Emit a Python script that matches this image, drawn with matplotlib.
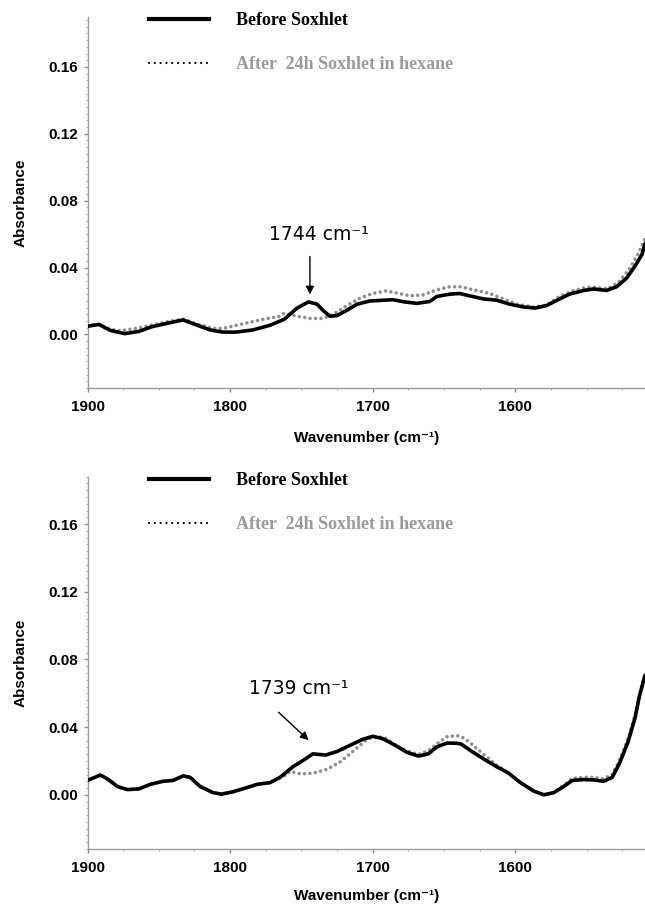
import numpy as np
import matplotlib
matplotlib.use("Agg")
import matplotlib.pyplot as plt
from matplotlib.lines import Line2D

# --- top panel (1744 cm-1) ---
top_wn_before = [1900, 1892, 1884, 1874, 1864, 1855, 1844, 1833, 1823, 1814, 1805, 1796,
                 1784, 1772, 1762, 1753, 1745, 1739, 1735, 1730, 1725, 1718, 1711, 1702,
                 1692, 1686, 1678, 1669, 1660, 1655, 1646, 1639, 1632, 1622, 1613, 1604,
                 1594, 1586, 1578, 1569, 1562, 1552, 1545, 1536, 1529, 1522, 1516, 1511, 1509]
top_before = [0.0049, 0.0060, 0.0024, 0.0005, 0.0018, 0.0046, 0.0067, 0.0087, 0.0055, 0.0027, 0.0014, 0.0014,
              0.0027, 0.0055, 0.0091, 0.0158, 0.0195, 0.0181, 0.0145, 0.0109, 0.0113, 0.0145, 0.0181, 0.0200,
              0.0205, 0.0208, 0.0195, 0.0186, 0.0197, 0.0227, 0.0241, 0.0245, 0.0231, 0.0212, 0.0205, 0.0181,
              0.0164, 0.0158, 0.0173, 0.0212, 0.0241, 0.0263, 0.0272, 0.0263, 0.0285, 0.0336, 0.0409, 0.0480, 0.0544]

top_wn_after = [1900, 1892, 1884, 1877, 1864, 1844, 1833, 1823, 1812, 1805, 1793, 1779,
                1765, 1762, 1753, 1744, 1735, 1728, 1718, 1709, 1700, 1691, 1683, 1674,
                1665, 1655, 1646, 1638, 1632, 1627, 1618, 1608, 1599, 1587, 1578, 1569,
                1560, 1550, 1543, 1535, 1527, 1520, 1514, 1509]
top_after = [0.0055, 0.0060, 0.0031, 0.0022, 0.0039, 0.0076, 0.0092, 0.0062, 0.0036, 0.0036, 0.0060, 0.0087,
             0.0109, 0.0127, 0.0109, 0.0096, 0.0096, 0.0118, 0.0173, 0.0217, 0.0245, 0.0260, 0.0248, 0.0231,
             0.0236, 0.0267, 0.0285, 0.0285, 0.0272, 0.0263, 0.0245, 0.0212, 0.0181, 0.0164, 0.0176, 0.0227,
             0.0260, 0.0282, 0.0282, 0.0272, 0.0318, 0.0390, 0.0480, 0.0571]

# --- bottom panel (1739 cm-1) ---
bot_wn_before = [1900, 1891, 1886, 1879, 1872, 1864, 1856, 1847, 1840, 1833, 1828, 1821,
                 1812, 1806, 1798, 1788, 1781, 1772, 1765, 1756, 1749, 1742, 1733, 1725,
                 1716, 1707, 1700, 1693, 1684, 1676, 1668, 1661, 1655, 1648, 1641, 1638,
                 1632, 1622, 1613, 1605, 1597, 1587, 1580, 1573, 1566, 1560, 1552, 1545,
                 1538, 1532, 1527, 1521, 1516, 1513, 1509]
bot_before = [0.0085, 0.0117, 0.0094, 0.0049, 0.0031, 0.0035, 0.0062, 0.0080, 0.0085, 0.0112, 0.0103, 0.0049,
              0.0013, 0.0004, 0.0018, 0.0043, 0.0062, 0.0072, 0.0103, 0.0166, 0.0202, 0.0242, 0.0235, 0.0256,
              0.0292, 0.0328, 0.0346, 0.0332, 0.0292, 0.0251, 0.0229, 0.0242, 0.0283, 0.0306, 0.0305, 0.0300,
              0.0265, 0.0211, 0.0166, 0.0130, 0.0076, 0.0022, 0.0000, 0.0013, 0.0049, 0.0085, 0.0090, 0.0088,
              0.0080, 0.0103, 0.0184, 0.0310, 0.0454, 0.0580, 0.0706]

bot_wn_after = [1900, 1891, 1886, 1879, 1872, 1864, 1856, 1847, 1840, 1833, 1828, 1821,
                1812, 1806, 1798, 1788, 1781, 1772, 1762, 1758, 1751, 1742, 1732, 1723,
                1714, 1704, 1697, 1690, 1684, 1676, 1668, 1661, 1655, 1648, 1641, 1638,
                1632, 1622, 1613, 1605, 1597, 1587, 1580, 1573, 1566, 1560, 1552, 1545,
                1538, 1532, 1527, 1521, 1516, 1513, 1509]
bot_after = [0.0085, 0.0117, 0.0094, 0.0049, 0.0031, 0.0035, 0.0062, 0.0080, 0.0085, 0.0112, 0.0103, 0.0049,
             0.0013, 0.0004, 0.0018, 0.0043, 0.0062, 0.0072, 0.0112, 0.0139, 0.0124, 0.0127, 0.0151, 0.0193,
             0.0256, 0.0328, 0.0346, 0.0332, 0.0292, 0.0260, 0.0238, 0.0260, 0.0301, 0.0343, 0.0350, 0.0345,
             0.0310, 0.0238, 0.0175, 0.0130, 0.0076, 0.0022, 0.0000, 0.0013, 0.0058, 0.0097, 0.0103, 0.0103,
             0.0094, 0.0120, 0.0202, 0.0328, 0.0472, 0.0589, 0.0715]

labels = ['Before Soxhlet', 'After  24h Soxhlet in hexane']
yticks = [0.00, 0.04, 0.08, 0.12, 0.16]
xticks = [1900, 1800, 1700, 1600]

sans = ['Liberation Sans', 'DejaVu Sans']
serif = ['Liberation Serif', 'DejaVu Serif']
gray = '#8f8f8f'


def draw_panel(ax, wn_b, a_b, wn_a, a_a, ylim, note, note_xy, arrow_from, arrow_to, xlabelpad):
    ax.plot(wn_a, a_a, color=gray, lw=2.6, linestyle=(0, (0.01, 1.5)),
            dash_capstyle='round', zorder=2)
    ax.plot(wn_b, a_b, color='black', lw=2.6, solid_capstyle='round', zorder=3)

    ax.set_xlim(1900, 1509)
    ax.set_ylim(*ylim)
    ax.set_xticks(xticks)
    ax.set_xticks(np.arange(1525, 1901, 25), minor=True)
    ax.set_yticks(yticks)
    ax.set_yticks(np.arange(-0.032, 0.19, 0.004), minor=True)
    ax.set_yticklabels(['%.2f' % t for t in yticks])

    for side in ['top', 'right']:
        ax.spines[side].set_visible(False)
    for side in ['left', 'bottom']:
        ax.spines[side].set_color('#9a9a9a')
        ax.spines[side].set_linewidth(1.0)
    ax.tick_params(which='major', direction='out', length=3, color='#8a8a8a', width=1)
    ax.tick_params(which='minor', direction='out', length=1.5, color='#b0b0b0', width=0.8)
    ax.tick_params(axis='x', pad=6)
    ax.tick_params(axis='y', pad=4)
    for lab in ax.get_xticklabels() + ax.get_yticklabels():
        lab.set_family(sans)
        lab.set_fontweight('bold')
        lab.set_fontsize(11)

    ax.set_xlabel('Wavenumber (cm\u207b\u00b9)', family=sans, fontweight='bold',
                  fontsize=11, labelpad=xlabelpad)
    ax.set_ylabel('Absorbance', family=sans, fontweight='bold', fontsize=11, labelpad=15)

    ax.text(note_xy[0], note_xy[1], note, fontsize=13.5, family='DejaVu Sans',
            ha='center', va='center')
    ax.annotate('', xy=arrow_to, xytext=arrow_from,
                arrowprops=dict(arrowstyle='-|>', color='black', lw=1.0,
                                mutation_scale=12, shrinkA=0, shrinkB=0))

    handles = [Line2D([], [], color='black', lw=3.0),
               Line2D([], [], color='black', lw=1.6, linestyle=(0, (0.01, 2.6)),
                      dash_capstyle='round')]
    leg = ax.legend(handles, labels, loc='upper left', bbox_to_anchor=(0.098, 1.032),
                    frameon=False, handlelength=3.3, handletextpad=1.5,
                    labelspacing=1.5, borderaxespad=0,
                    prop={'family': serif, 'weight': 'bold', 'size': 13})
    leg.get_texts()[1].set_color('#9a9a9a')


fig = plt.figure(figsize=(6.45, 9.05), dpi=100)
ax1 = fig.add_axes([0.1357, 0.5713, 0.8643, 0.4102])
ax2 = fig.add_axes([0.1357, 0.0619, 0.8643, 0.4114])

draw_panel(ax1, top_wn_before, top_before, top_wn_after, top_after,
           (-0.0123, 0.190), '1744 cm\u207b\u00b9', (1738, 0.060),
           (1744, 0.0466), (1744, 0.0239), 12)
draw_panel(ax2, bot_wn_before, bot_before, bot_wn_after, bot_after,
           (-0.0318, 0.1722), '1739 cm\u207b\u00b9', (1752, 0.063),
           (1766, 0.0488), (1745, 0.0323), 10)

fig.savefig('out.png', dpi=100)
